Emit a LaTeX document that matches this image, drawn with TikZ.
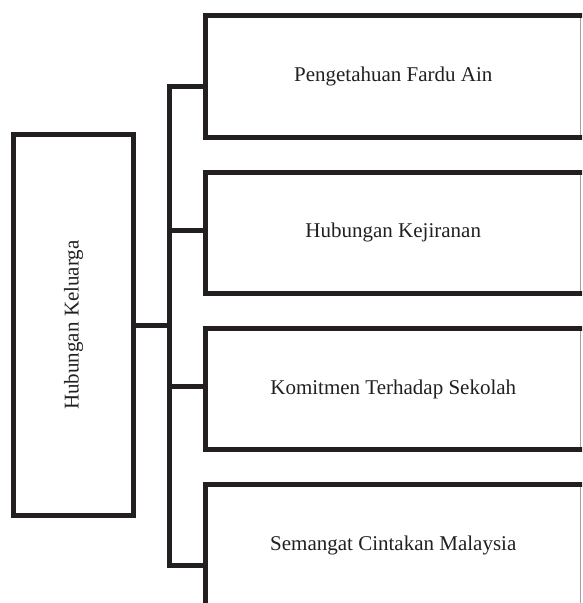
\documentclass[tikz,border=0pt]{standalone}
\usepackage{fontspec}
\setmainfont{Liberation Serif}
\definecolor{ink}{HTML}{231F20}
\definecolor{edgegray}{HTML}{A0A0A0}
\begin{document}
\begin{tikzpicture}[x=1pt,y=-1pt,
  heavy/.style={draw=ink,line width=5pt},
  thinedge/.style={draw=edgegray,line width=1pt},
  boxtext/.style={text=ink,font=\fontsize{21}{26}\selectfont,inner sep=0pt},
  rbox/.style={boxtext,minimum width=375.5pt,anchor=center},
]
\clip (0,0) rectangle (582,603);
\fill[white] (0,0) rectangle (582,603);
% left box
\node[heavy,boxtext,minimum width=120pt,minimum height=381pt] (L) at (73.5,325) {\rotatebox{90}{Hubungan Keluarga}};
% right boxes (nodes carry text; borders drawn below)
\node[rbox,minimum height=121.5pt] (B1) at (393.25,76.25) {Pengetahuan Fardu Ain};
\node[rbox,minimum height=120.5pt] (B2) at (393.25,232.75) {Hubungan Kejiranan};
\node[rbox,minimum height=121pt] (B3) at (393.25,389) {Komitmen Terhadap Sekolah};
\node[rbox,minimum height=121pt] (B4) at (393.25,545) {Semangat Cintakan Malaysia};
% borders
\foreach \b in {B1,B2,B3}{
  \draw[heavy] ([xshift=3pt]\b.north east) -- (\b.north west) -- (\b.south west) -- ([xshift=3pt]\b.south east);
  \draw[thinedge] ([xshift=-0.5pt,yshift=-2.5pt]\b.north east) -- ([xshift=-0.5pt,yshift=2.5pt]\b.south east);
}
\draw[heavy] ([xshift=3pt]B4.north east) -- (B4.north west) -- ([yshift=-20pt]B4.south west);
\draw[thinedge] ([xshift=-0.5pt,yshift=-2.5pt]B4.north east) -- ([xshift=-0.5pt,yshift=-20pt]B4.south east);
% bus
\coordinate (bt) at (169.5,86.5);
\coordinate (bb) at (169.5,565.5);
\coordinate (c2) at (169.5,230.5);
\coordinate (c3) at (169.5,386.5);
\coordinate (cl) at (169.5,325.5);
\draw[heavy] (bt -| B1.west) -- (bt) -- (bb) -- (bb -| B4.west);
\draw[heavy] (c2) -- (c2 -| B2.west);
\draw[heavy] (c3) -- (c3 -| B3.west);
\draw[heavy] (cl -| L.east) -- (cl);
\end{tikzpicture}
\end{document}
